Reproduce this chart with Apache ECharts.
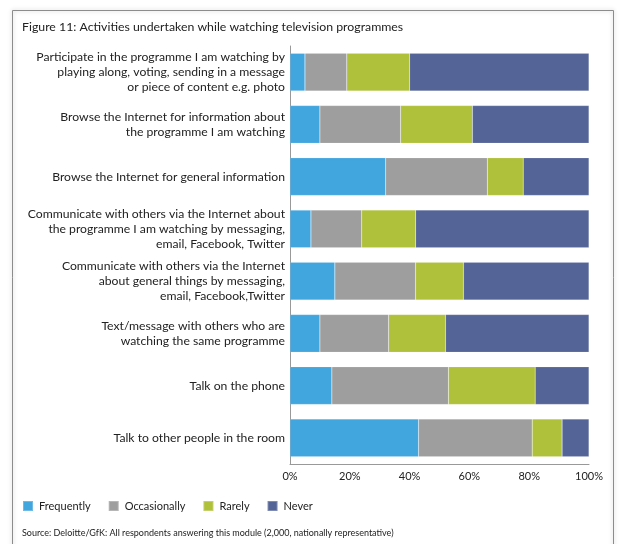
<!DOCTYPE html>
<html>
<head>
<meta charset="utf-8">
<script src="https://cdn.jsdelivr.net/npm/echarts@6/dist/echarts.min.js"></script>
<style>
    html, body { margin: 0; padding: 0; background: #fff; }
    #chart { width: 624px; height: 544px; }
</style>
</head>
<body>
<div id="chart"></div>
<script>
// 活动类别（从上到下）
let activities = [
    'Participate in the programme I am watching by\nplaying along, voting, sending in a message\nor piece of content e.g. photo',
    'Browse the Internet for information about\nthe programme I am watching',
    'Browse the Internet for general information',
    'Communicate with others via the Internet about\nthe programme I am watching by messaging,\nemail, Facebook, Twitter',
    'Communicate with others via the Internet\nabout general things by messaging,\nemail, Facebook,Twitter',
    'Text/message with others who are\nwatching the same programme',
    'Talk on the phone',
    'Talk to other people in the room'
];
let frequently = [5, 10, 32, 7, 15, 10, 14, 43];
let occasionally = [14, 27, 34, 17, 27, 23, 39, 38];
let rarely = [21, 24, 12, 18, 16, 19, 29, 10];
let never = [60, 39, 22, 58, 42, 48, 18, 9];
let tickLabels = ['0%', '20%', '40%', '60%', '80%', '100%'];

let fontName = 'Lato, "Open Sans", sans-serif';

function makeBar(name, data, color) {
    return {
        name: name,
        type: 'bar',
        stack: 'total',
        barCategoryGap: '28%',
        data: data,
        itemStyle: {
            color: color,
            borderColor: 'rgba(255,255,255,0.25)',
            borderWidth: 0.5
        },
        emphasis: {disabled: true}
    };
}

let myChart = echarts.init(document.getElementById('chart'));
let option = {
    animation: false,
    textStyle: {fontFamily: fontName},
    title: {
        text: 'Figure 11: Activities undertaken while watching television programmes',
        left: 17,
        top: 16,
        textStyle: {
            fontFamily: fontName,
            fontSize: 12.3,
            fontWeight: 'normal',
            color: '#222'
        }
    },
    graphic: [
        {
            type: 'rect',
            shape: {x: 12.5, y: 10.5, width: 601, height: 545},
            style: {
                fill: 'none',
                stroke: '#8c8c8c',
                lineWidth: 1,
                shadowBlur: 4,
                shadowColor: 'rgba(0,0,0,0.25)'
            },
            silent: true
        },
        {
            type: 'text',
            left: 22,
            top: 529,
            style: {
                text: 'Source: Deloitte/GfK: All respondents answering this module (2,000, nationally representative)',
                font: '9px ' + fontName,
                fill: '#222'
            }
        }
    ],
    legend: {
        left: 17,
        top: 495,
        itemWidth: 10,
        itemHeight: 10,
        itemGap: 17,
        icon: 'rect',
        textStyle: {
            fontFamily: fontName,
            fontSize: 11,
            color: '#222',
            padding: [0, 0, 0, 1]
        },
        data: ['Frequently', 'Occasionally', 'Rarely', 'Never']
    },
    grid: {
        left: 290,
        right: 35,
        top: 46,
        bottom: 80
    },
    xAxis: {
        type: 'value',
        min: 0,
        max: 100,
        interval: 20,
        axisLine: {show: true, lineStyle: {color: '#999'}},
        axisTick: {show: false},
        splitLine: {show: false},
        axisLabel: {
            margin: 7,
            fontSize: 11,
            color: '#222',
            fontFamily: fontName,
            formatter: function (v) {
                return tickLabels[v / 20];
            }
        }
    },
    yAxis: {
        type: 'category',
        inverse: true,
        data: activities,
        axisLine: {show: true, lineStyle: {color: '#999'}},
        axisTick: {show: false},
        axisLabel: {
            margin: 5,
            fontSize: 12.2,
            lineHeight: 15,
            color: '#222',
            fontFamily: fontName,
            align: 'right'
        }
    },
    series: [
        makeBar('Frequently', frequently, '#41a5de'),
        makeBar('Occasionally', occasionally, '#9e9e9e'),
        makeBar('Rarely', rarely, '#afc03a'),
        makeBar('Never', never, '#546497')
    ]
};
myChart.setOption(option);
</script>
</body>
</html>
